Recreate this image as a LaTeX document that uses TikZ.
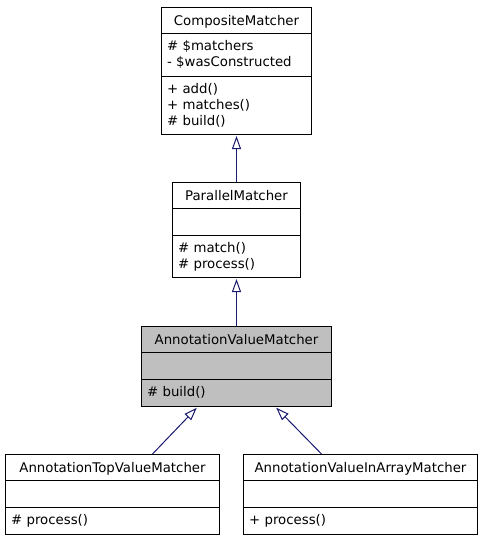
\documentclass[tikz,border=0pt]{standalone}
\usepackage{fontspec}
\setmainfont{DejaVu Sans}
\usetikzlibrary{arrows.meta}
\definecolor{edgeblue}{HTML}{191970}
\definecolor{hlgray}{HTML}{BFBFBF}
\tikzset{
  box/.style={draw=black, line width=1pt, inner sep=0pt, anchor=north west, fill=white},
  lbl/.style={inner sep=0pt, font=\fontsize{13.3}{16}\selectfont},
  divl/.style={draw=black, line width=1pt},
  inh/.style={draw=edgeblue, line width=1pt, -{Triangle[open, length=13pt, width=9pt, fill=white]}, shorten >=1pt},
}
\begin{document}
\begin{tikzpicture}[x=1pt, y=-1pt]
\useasboundingbox (0,0) rectangle (485,539);

% CompositeMatcher
\node[box, minimum width=150pt, minimum height=127pt] (cm) at (161,7) {};
\draw[divl] ([yshift=-26pt]cm.north west) -- ([yshift=-26pt]cm.north east);
\draw[divl] ([yshift=-69pt]cm.north west) -- ([yshift=-69pt]cm.north east);
\node[lbl, anchor=base] (cmt) at ([yshift=-18pt]cm.north) {CompositeMatcher};
\node[lbl, anchor=base west] (cma1) at ([xshift=6pt, yshift=-43pt]cm.north west) {\# \$matchers};
\node[lbl, anchor=base west] (cma2) at ([xshift=6pt, yshift=-59pt]cm.north west) {- \$wasConstructed};
\node[lbl, anchor=base west] (cmm1) at ([xshift=6pt, yshift=-86pt]cm.north west) {+ add()};
\node[lbl, anchor=base west] (cmm2) at ([xshift=6pt, yshift=-102pt]cm.north west) {+ matches()};
\node[lbl, anchor=base west] (cmm3) at ([xshift=6pt, yshift=-118pt]cm.north west) {\# build()};

% ParallelMatcher
\node[box, minimum width=128pt, minimum height=95pt] (pm) at (172,182) {};
\draw[divl] ([yshift=-26pt]pm.north west) -- ([yshift=-26pt]pm.north east);
\draw[divl] ([yshift=-53pt]pm.north west) -- ([yshift=-53pt]pm.north east);
\node[lbl, anchor=base] (pmt) at ([yshift=-18pt]pm.north) {ParallelMatcher};
\node[lbl, anchor=base west] (pmm1) at ([xshift=6pt, yshift=-70pt]pm.north west) {\# match()};
\node[lbl, anchor=base west] (pmm2) at ([xshift=6pt, yshift=-86pt]pm.north west) {\# process()};

% AnnotationValueMatcher
\node[box, fill=hlgray, minimum width=190pt, minimum height=80pt] (avm) at (141,326) {};
\draw[divl] ([yshift=-26pt]avm.north west) -- ([yshift=-26pt]avm.north east);
\draw[divl] ([yshift=-53pt]avm.north west) -- ([yshift=-53pt]avm.north east);
\node[lbl, anchor=base] (avmt) at ([yshift=-18pt]avm.north) {AnnotationValueMatcher};
\node[lbl, anchor=base west] (avmm1) at ([xshift=6pt, yshift=-70pt]avm.north west) {\# build()};

% AnnotationTopValueMatcher
\node[box, minimum width=214pt, minimum height=80pt] (atv) at (5,454) {};
\draw[divl] ([yshift=-26pt]atv.north west) -- ([yshift=-26pt]atv.north east);
\draw[divl] ([yshift=-53pt]atv.north west) -- ([yshift=-53pt]atv.north east);
\node[lbl, anchor=base] (atvt) at ([yshift=-18pt]atv.north) {AnnotationTopValueMatcher};
\node[lbl, anchor=base west] (atvm1) at ([xshift=6pt, yshift=-70pt]atv.north west) {\# process()};

% AnnotationValueInArrayMatcher
\node[box, minimum width=234pt, minimum height=80pt] (avi) at (243,454) {};
\draw[divl] ([yshift=-26pt]avi.north west) -- ([yshift=-26pt]avi.north east);
\draw[divl] ([yshift=-53pt]avi.north west) -- ([yshift=-53pt]avi.north east);
\node[lbl, anchor=base] (avit) at ([yshift=-18pt]avi.north) {AnnotationValueInArrayMatcher};
\node[lbl, anchor=base west] (avim1) at ([xshift=6pt, yshift=-70pt]avi.north west) {+ process()};

% inheritance connectors
\draw[inh] (pm.north) -- (cm.south);
\draw[inh] (avm.north) -- (pm.south);
\draw[inh] ([xshift=40pt]atv.north) -- ([xshift=-39pt]avm.south);
\draw[inh] ([xshift=-39pt]avi.north) -- ([xshift=39pt]avm.south);
\end{tikzpicture}
\end{document}
